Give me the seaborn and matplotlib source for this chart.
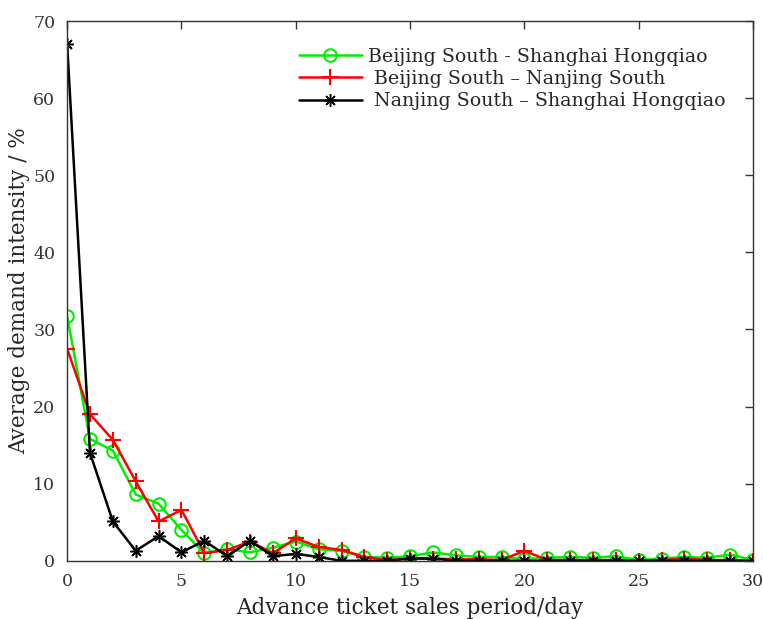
import numpy as np
import pandas as pd
import matplotlib
matplotlib.use("Agg")
import matplotlib.pyplot as plt
import seaborn as sns

days = list(range(31))

bj_sh = [31.7, 15.8, 14.3, 8.6, 7.4, 4.0, 1.0, 1.5, 1.1, 1.7, 2.5, 1.5, 1.3, 0.5, 0.4, 0.6,
         1.1, 0.7, 0.5, 0.5, 0.2, 0.4, 0.5, 0.4, 0.6, 0.1, 0.3, 0.5, 0.4, 0.8, 0.1]
bj_nj = [27.5, 19.0, 15.7, 10.3, 5.1, 6.6, 1.0, 1.4, 2.5, 1.0, 2.9, 1.8, 1.4, 0.5, 0.1, 0.3,
         0.3, 0.2, 0.2, 0.1, 1.3, 0.1, 0.1, 0.1, 0.1, 0.0, 0.1, 0.3, 0.1, 0.1, 0.0]
nj_sh = [67.0, 14.0, 5.1, 1.3, 3.2, 1.1, 2.6, 0.6, 2.6, 0.6, 0.9, 0.5, 0.0, 0.0, 0.0, 0.3,
         0.3, 0.0, 0.0, 0.0, 0.0, 0.0, 0.0, 0.0, 0.0, 0.0, 0.0, 0.0, 0.0, 0.0, 0.0]

labels = ["Beijing South - Shanghai Hongqiao",
          " Beijing South \u2013 Nanjing South",
          " Nanjing South \u2013 Shanghai Hongqiao"]

sns.set_style("white")
plt.rcParams["font.family"] = ["DejaVu Serif"]

fig = plt.figure(figsize=(7.63, 6.19), dpi=100)
ax = fig.add_axes([0.088, 0.094, 0.899, 0.872])

styles = [
    (bj_sh, "#00ee00", dict(marker="o", markersize=9, markerfacecolor="none",
                             markeredgecolor="#00ee00", markeredgewidth=1.5)),
    (bj_nj, "#ff0000", dict(marker="+", markersize=11, markeredgecolor="#ff0000",
                             markeredgewidth=1.5)),
    (nj_sh, "#000000", dict(marker=(8, 2, 0), markersize=9, markeredgecolor="#000000",
                             markeredgewidth=1.1)),
]
for (vals, col, mk), lab in zip(styles, labels):
    sns.lineplot(x=days, y=vals, color=col, linewidth=1.8, label=lab, ax=ax, **mk)

ax.set_xlim(0, 30)
ax.set_ylim(0, 70)
ax.set_xticks(range(0, 31, 5))
ax.set_yticks(range(0, 71, 10))
ax.tick_params(direction="in", length=6, width=1, labelsize=12.5, top=True, right=True,
               colors="#333333", pad=8.5)
for s in ax.spines.values():
    s.set_color("#333333")
    s.set_linewidth(1)
ax.set_xlabel("Advance ticket sales period/day", fontsize=15.5, labelpad=5)
ax.set_ylabel("Average demand intensity / %", fontsize=15.5, labelpad=2.5)

leg = ax.legend(loc="upper right", bbox_to_anchor=(0.98, 0.975), frameon=False,
                fontsize=13.7, handlelength=3.3, labelspacing=0.22, handletextpad=0.35,
                borderaxespad=0.3)

fig.savefig("out.png", dpi=100)
